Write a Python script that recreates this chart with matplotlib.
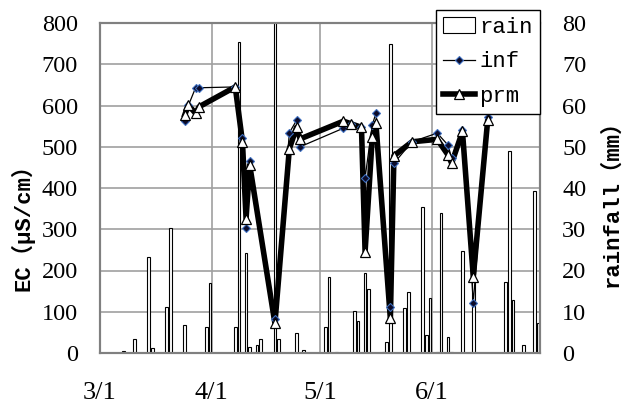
import pandas as pd
import matplotlib
matplotlib.use('Agg')
import matplotlib.pyplot as plt
import matplotlib.dates as mdates
from matplotlib.lines import Line2D
from matplotlib.patches import Rectangle

plt.rcParams['font.family'] = ['Liberation Serif', 'DejaVu Serif']

YEAR = 2009

# daily rainfall (mm)
rain_dates = ['3/7', '3/10', '3/14', '3/15', '3/19', '3/20', '3/24', '3/30', '3/31',
              '4/7', '4/8', '4/10', '4/11', '4/13', '4/14', '4/18', '4/19', '4/24', '4/26',
              '5/2', '5/3', '5/5', '5/10', '5/11', '5/13', '5/14', '5/18', '5/19', '5/20',
              '5/24', '5/25', '5/29', '5/30', '5/31', '6/2', '6/3', '6/5', '6/6', '6/9',
              '6/12', '6/21', '6/22', '6/23', '6/26', '6/29', '6/30']
rain_mm = [0.5, 3.5, 23.3, 1.3, 11.2, 30.2, 6.7, 6.4, 17.0,
           6.4, 75.5, 24.3, 1.4, 1.9, 3.5, 100.0, 3.5, 4.9, 0.7,
           6.4, 18.5, 0.3, 10.3, 7.8, 19.5, 15.4, 0.3, 2.7, 75.0,
           11.0, 14.9, 35.5, 4.4, 13.4, 0.3, 33.9, 3.8, 0.3, 24.8,
           18.5, 17.3, 49.0, 12.8, 1.9, 39.3, 7.3]

# EC samples (uS/cm)
ec_dates = ['3/24', '3/25', '3/27', '3/28', '4/7', '4/9', '4/10', '4/11', '4/18',
            '4/22', '4/24', '4/25', '5/7', '5/9', '5/12', '5/13', '5/15', '5/16',
            '5/20', '5/21', '5/26', '6/2', '6/5', '6/6', '6/9', '6/12', '6/16']
inf_ec = [563, 600, 643, 643, 645, 520, 302, 466, 82,
          534, 564, 500, 545, 555, 547, 425, 553, 581,
          111, 460, 512, 533, 504, 472, 540, 122, 571]
prm_ec = [577, 601, 581, 597, 645, 512, 326, 456, 72,
          495, 547, 519, 562, 556, 547, 246, 524, 557,
          84, 478, 512, 518, 480, 460, 537, 185, 565]

tick_dates = ['3/1', '4/1', '5/1', '6/1']
tick_labels = ['3/1', '4/1', '5/1', '6/1']


def to_num(ds):
    return mdates.date2num(pd.to_datetime([f'{YEAR}/{d}' for d in ds]))


xr = to_num(rain_dates) + 0.5
xe = to_num(ec_dates) + 0.5

fig = plt.figure(figsize=(6.26, 4.03), dpi=100)
ax = fig.add_axes([100 / 626, 50 / 403, 440 / 626, 330 / 403])
ax2 = ax.twinx()

# rain bars on the base axes (right scale)
ax.bar(xr, rain_mm, width=0.72, color='white', edgecolor='black', linewidth=0.8, zorder=2)
ax.set_ylim(0, 80)
ax.set_yticks(range(0, 81, 10))
ax.set_xlim(to_num(['3/1'])[0], to_num(['7/1'])[0])
ax.set_xticks(to_num(tick_dates))
ax.set_xticklabels(tick_labels)
ax.grid(True, color='#a0a0a0', linewidth=1.2)
ax.set_axisbelow(True)
ax.tick_params(length=0)
ax.tick_params(axis='x', pad=21, labelsize=19)
ax.tick_params(axis='y', pad=16, labelsize=17.5)

# EC lines on the twin (left scale)
ax2.set_ylim(0, 800)
ax2.set_yticks(range(0, 801, 100))
ax2.tick_params(length=0, pad=16, labelsize=17.5)

# swap sides: EC on the left, rainfall on the right
ax.yaxis.tick_right()
ax2.yaxis.tick_left()

ax2.plot(xe, prm_ec, color='black', lw=4, solid_joinstyle='round', zorder=2)
ax2.plot(xe, inf_ec, color='black', lw=0.9, marker='D', ms=4.5,
         mfc='#0b0b2a', mec='#3d6fc0', mew=0.8, zorder=3)
ax2.plot(xe, prm_ec, ls='none', marker='^', ms=7.5, mfc='white', mec='black',
         mew=0.9, zorder=4)

for a in (ax, ax2):
    for s in a.spines.values():
        s.set_color('#808080')
        s.set_linewidth(1.5)

handles = [Rectangle((0, 0), 1, 1, fc='white', ec='black', lw=0.8),
           Line2D([], [], color='black', lw=0.9, marker='D', ms=4.5,
                  mfc='#0b0b2a', mec='#3d6fc0', mew=0.8),
           Line2D([], [], color='black', lw=4, marker='^', ms=7.5,
                  mfc='white', mec='black', mew=0.9)]
leg = ax2.legend(handles, ['rain', 'inf', 'prm'], loc='upper left',
                 bbox_to_anchor=(436 / 626, 1 - 10 / 403), bbox_transform=fig.transFigure,
                 borderaxespad=0, fancybox=False, edgecolor='black', framealpha=1,
                 prop={'family': 'Liberation Mono', 'size': 16},
                 handlelength=1.45, handletextpad=0.2, borderpad=0.3, labelspacing=0.62)
leg.get_frame().set_linewidth(1.0)

lab_font = ['Liberation Mono', 'Noto Sans CJK JP']
fig.text(22 / 626, 1 - 222 / 403, 'EC（μS/cm）', rotation=90, ha='center', va='center',
         fontsize=16, fontweight='bold', family=lab_font)
fig.text(612 / 626, 1 - 198 / 403, 'rainfall（mm）', rotation=90, ha='center', va='center',
         fontsize=16, fontweight='bold', family=lab_font)

fig.savefig('out.png', dpi=100)
